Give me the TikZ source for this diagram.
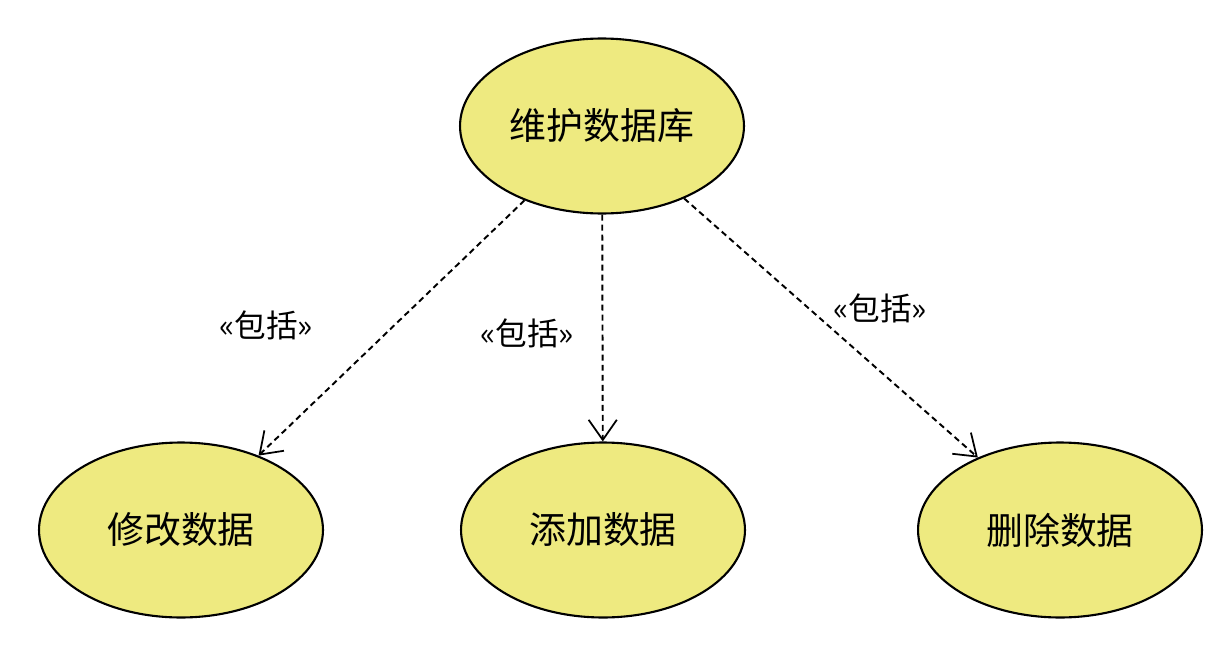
\documentclass[tikz,border=0pt]{standalone}
\usepackage{fontspec}
\setmainfont{Noto Sans CJK SC}
\usetikzlibrary{shapes.geometric,arrows.meta}

\definecolor{ucfill}{RGB}{238,234,128}

\newcommand*{\picw}{1229}
\newcommand*{\pich}{664}

\begin{document}
\begin{tikzpicture}
[
	x=0.02cm, y=0.02cm,
	usecase/.style={ellipse,draw,line width=1.2pt,fill=ucfill,inner sep=0pt,
		minimum width=5.68cm,minimum height=3.5cm,font=\fontsize{21}{25}\selectfont},
	incl/.style={dash pattern=on 3.4pt off 2.3pt,line width=1.1pt,
		-{Straight Barb[angle=70:14pt,line width=1pt]}},
	stereo/.style={font=\fontsize{18}{21}\selectfont}
]
	\useasboundingbox (0,0) rectangle (\picw,\pich);

	% use cases
	\node[usecase] (main) at (602,538) {维护数据库};
	\node[usecase] (edit) at (181,134) {修改数据};
	\node[usecase] (add)  at (603,134) {添加数据};
	\node[usecase] (del)  at (1060,134) {删除数据};

	% include relations
	\draw[incl] (main) -- (edit);
	\draw[incl] (main) -- (add);
	\draw[incl] (main) -- (del);

	\node[stereo] (l1) at (266,339) {«包括»};
	\node[stereo] (l2) at (527,331) {«包括»};
	\node[stereo] (l3) at (880,356) {«包括»};

\end{tikzpicture}
\end{document}
